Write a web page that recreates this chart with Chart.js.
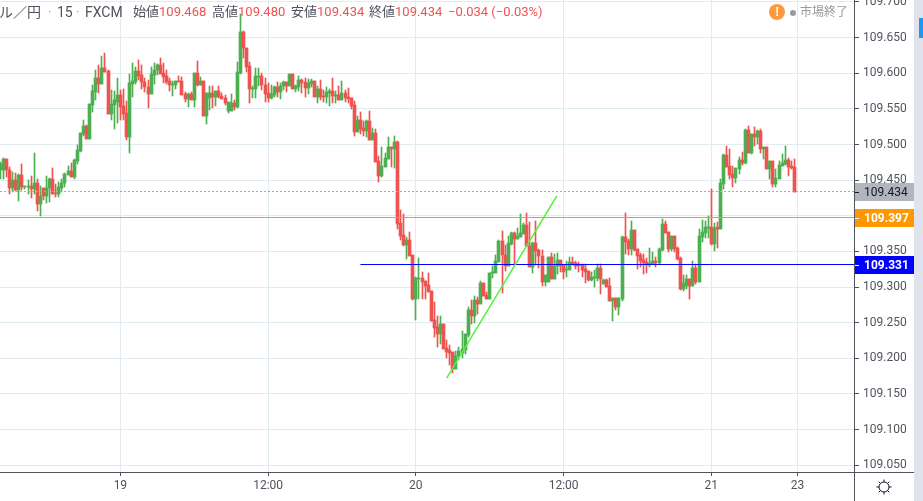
<!DOCTYPE html>
<html>
<head>
<meta charset="utf-8">
<script src="https://cdn.jsdelivr.net/npm/chart.js@4"></script>
<style>
body{margin:0;background:#fff;overflow:hidden;font-family:Roboto,'Noto Sans CJK JP',sans-serif}
#wrap{position:relative;width:923px;height:501px;overflow:hidden}
#chart{position:absolute;left:0;top:0}
.t{position:absolute;top:4px;font-size:13px;line-height:16px;white-space:nowrap;color:#50535e}
.r{color:#ef5350}
#side{position:absolute;left:914px;top:0;width:9px;height:501px;background:#e0e3eb}
#side div{position:absolute;left:5px;top:18px;width:4px;height:20px;background:#2196f3}
#mark{position:absolute;left:769px;top:4px;width:16px;height:16px;border-radius:8px;background:#ff9a3c;color:#fff;font-size:12px;font-weight:bold;line-height:16px;text-align:center}
#dot{position:absolute;left:790px;top:10px;width:6px;height:6px;border-radius:3px;background:#999}
</style>
</head>
<body>
<div id="wrap">
  <canvas id="chart" width="914" height="501"></canvas>
  <div class="t" style="left:-1px;font-size:14px">ル／円</div>
  <div class="t" style="left:48px;color:#999">·</div>
  <div class="t" style="left:57px;font-size:14px">15</div>
  <div class="t" style="left:76px;color:#999">·</div>
  <div class="t" style="left:85px;font-size:14px">FXCM</div>
  <div class="t" style="left:133px">始値<span class="r">109.468</span></div>
  <div class="t" style="left:212px">高値<span class="r">109.480</span></div>
  <div class="t" style="left:291px">安値<span class="r">109.434</span></div>
  <div class="t" style="left:369px">終値<span class="r">109.434</span></div>
  <div class="t r" style="left:448px">−0.034 (−0.03%)</div>
  <div id="mark">!</div>
  <div id="dot"></div>
  <div class="t" style="left:800px;color:#999;font-size:12px">市場終了</div>
  <div id="side"><div></div></div>
</div>
<script>
// 15分足 ドル／円
const opens=[109.464,109.464,109.480,109.464,109.439,109.450,109.436,109.457,109.440,109.440,
109.442,109.438,109.446,109.416,109.439,109.428,109.439,109.452,109.432,109.431,
109.439,109.446,109.457,109.463,109.454,109.477,109.491,109.515,109.526,109.508,
109.555,109.574,109.593,109.585,109.607,109.603,109.543,109.555,109.560,109.569,
109.554,109.544,109.511,109.585,109.588,109.603,109.598,109.588,109.581,109.571,
109.598,109.605,109.612,109.600,109.596,109.589,109.583,109.583,109.589,109.589,
109.571,109.564,109.571,109.562,109.600,109.583,109.589,109.540,109.565,109.572,
109.567,109.575,109.568,109.565,109.547,109.547,109.558,109.553,109.600,109.658,
109.635,109.610,109.578,109.578,109.595,109.596,109.584,109.572,109.565,109.570,
109.581,109.574,109.582,109.588,109.582,109.599,109.578,109.581,109.591,109.588,
109.579,109.585,109.589,109.567,109.578,109.568,109.567,109.572,109.575,109.568,
109.570,109.562,109.572,109.567,109.565,109.555,109.518,109.534,109.523,109.519,
109.533,109.506,109.516,109.477,109.456,109.468,109.480,109.497,109.494,109.504,
109.390,109.373,109.359,109.366,109.345,109.283,109.311,109.313,109.308,109.303,
109.294,109.254,109.244,109.234,109.248,109.214,109.212,109.209,109.185,109.203,
109.207,109.212,109.233,109.268,109.259,109.282,109.276,109.306,109.289,109.283,
109.320,109.320,109.335,109.365,109.345,109.329,109.360,109.376,109.367,109.370,
109.374,109.387,109.358,109.328,109.362,109.352,109.344,109.307,109.307,109.342,
109.311,109.329,109.338,109.331,109.324,109.324,109.335,109.334,109.332,109.331,
109.325,109.322,109.310,109.313,109.313,109.327,109.304,109.310,109.301,109.280,
109.285,109.272,109.283,109.370,109.365,109.353,109.380,109.353,109.345,109.338,
109.335,109.331,109.332,109.336,109.334,109.352,109.388,109.377,109.353,109.372,
109.355,109.341,109.297,109.301,109.311,109.301,109.327,109.307,109.370,109.376,
109.383,109.384,109.360,109.384,109.381,109.445,109.485,109.470,109.459,109.453,
109.466,109.478,109.474,109.520,109.488,109.515,109.511,109.519,109.494,109.497,
109.466,109.477,109.445,109.452,109.470,109.473,109.478,109.470,109.468]
const highs=[109.476,109.481,109.480,109.468,109.461,109.460,109.459,109.472,109.442,109.450,
109.456,109.488,109.452,109.442,109.439,109.456,109.453,109.467,109.445,109.447,
109.452,109.460,109.470,109.474,109.480,109.499,109.516,109.534,109.527,109.557,
109.584,109.605,109.612,109.624,109.628,109.605,109.577,109.575,109.593,109.577,
109.578,109.561,109.599,109.614,109.609,109.619,109.612,109.593,109.591,109.609,
109.614,109.613,109.621,109.614,109.605,109.593,109.589,109.589,109.596,109.595,
109.574,109.572,109.574,109.600,109.617,109.595,109.589,109.572,109.582,109.582,
109.575,109.582,109.572,109.569,109.560,109.571,109.562,109.616,109.683,109.659,
109.635,109.616,109.582,109.607,109.607,109.600,109.593,109.586,109.584,109.582,
109.588,109.586,109.589,109.588,109.599,109.599,109.584,109.596,109.592,109.593,
109.592,109.592,109.589,109.582,109.591,109.577,109.581,109.578,109.593,109.575,
109.582,109.589,109.577,109.579,109.565,109.561,109.540,109.546,109.533,109.534,
109.547,109.523,109.522,109.484,109.497,109.488,109.511,109.497,109.512,109.505,
109.408,109.402,109.370,109.377,109.345,109.314,109.341,109.321,109.308,109.320,
109.294,109.279,109.259,109.259,109.248,109.226,109.219,109.209,109.210,109.216,
109.238,109.234,109.272,109.282,109.287,109.286,109.308,109.306,109.293,109.320,
109.329,109.345,109.366,109.379,109.359,109.372,109.377,109.377,109.383,109.402,
109.390,109.404,109.391,109.363,109.393,109.353,109.352,109.317,109.342,109.348,
109.346,109.348,109.338,109.331,109.337,109.342,109.342,109.337,109.335,109.332,
109.332,109.322,109.321,109.324,109.332,109.332,109.311,109.311,109.313,109.285,
109.285,109.285,109.372,109.404,109.367,109.393,109.380,109.353,109.348,109.346,
109.341,109.355,109.349,109.342,109.355,109.395,109.393,109.377,109.372,109.372,
109.356,109.342,109.317,109.317,109.311,109.336,109.332,109.381,109.394,109.393,
109.400,109.438,109.390,109.391,109.452,109.487,109.498,109.494,109.470,109.467,
109.482,109.489,109.522,109.526,109.515,109.525,109.520,109.522,109.497,109.497,
109.477,109.477,109.466,109.477,109.487,109.498,109.481,109.477,109.480]
const lows=[109.452,109.452,109.455,109.431,109.433,109.435,109.421,109.436,109.438,109.431,
109.425,109.431,109.406,109.399,109.422,109.418,109.420,109.431,109.427,109.427,
109.434,109.441,109.457,109.454,109.452,109.473,109.490,109.512,109.508,109.508,
109.546,109.562,109.572,109.585,109.602,109.543,109.534,109.522,109.530,109.534,
109.534,109.506,109.488,109.567,109.585,109.591,109.578,109.574,109.551,109.571,
109.585,109.598,109.599,109.586,109.585,109.575,109.568,109.578,109.588,109.569,
109.560,109.553,109.562,109.553,109.582,109.583,109.540,109.529,109.548,109.551,
109.554,109.565,109.564,109.555,109.544,109.547,109.548,109.551,109.599,109.621,
109.602,109.558,109.565,109.565,109.582,109.577,109.560,109.560,109.564,109.567,
109.567,109.564,109.577,109.574,109.582,109.578,109.574,109.575,109.572,109.567,
109.571,109.581,109.567,109.558,109.562,109.560,109.558,109.554,109.558,109.558,
109.562,109.562,109.560,109.558,109.550,109.512,109.518,109.515,109.512,109.511,
109.506,109.506,109.475,109.447,109.454,109.468,109.480,109.468,109.467,109.381,
109.366,109.358,109.339,109.343,109.282,109.254,109.283,109.283,109.283,109.293,
109.252,109.230,109.216,109.220,109.213,109.200,109.190,109.179,109.185,109.197,
109.200,109.206,109.230,109.248,109.249,109.262,109.276,109.287,109.283,109.283,
109.313,109.320,109.335,109.292,109.322,109.329,109.359,109.331,109.367,109.370,
109.374,109.357,109.328,109.320,109.331,109.327,109.301,109.301,109.307,109.311,
109.311,109.318,109.321,109.311,109.314,109.324,109.331,109.325,109.321,109.314,
109.306,109.308,109.308,109.300,109.308,109.290,109.304,109.300,109.280,109.252,
109.268,109.261,109.280,109.346,109.345,109.345,109.351,109.325,109.328,109.318,
109.320,109.328,109.332,109.328,109.332,109.351,109.376,109.349,109.351,109.349,
109.338,109.296,109.294,109.297,109.283,109.301,109.304,109.307,109.363,109.369,
109.369,109.359,109.350,109.355,109.381,109.438,109.468,109.452,109.440,109.446,
109.459,109.471,109.473,109.488,109.487,109.498,109.501,109.488,109.480,109.466,
109.452,109.440,109.440,109.452,109.470,109.471,109.456,109.466,109.434]
const closes=[109.473,109.480,109.464,109.439,109.450,109.436,109.457,109.440,109.442,109.442,
109.438,109.446,109.416,109.428,109.428,109.439,109.452,109.431,109.431,109.440,
109.446,109.459,109.463,109.454,109.478,109.492,109.516,109.526,109.508,109.557,
109.575,109.593,109.585,109.607,109.602,109.543,109.557,109.562,109.569,109.553,
109.543,109.511,109.586,109.589,109.603,109.596,109.588,109.581,109.571,109.599,
109.605,109.612,109.599,109.595,109.588,109.583,109.585,109.589,109.588,109.569,
109.564,109.571,109.562,109.600,109.583,109.589,109.540,109.572,109.572,109.567,
109.575,109.567,109.564,109.558,109.560,109.558,109.553,109.602,109.658,109.635,
109.609,109.578,109.579,109.596,109.596,109.583,109.571,109.565,109.571,109.581,
109.574,109.582,109.588,109.582,109.599,109.578,109.582,109.591,109.586,109.579,
109.586,109.589,109.567,109.578,109.567,109.567,109.574,109.575,109.568,109.570,
109.562,109.572,109.565,109.564,109.554,109.518,109.534,109.522,109.519,109.533,
109.506,109.516,109.475,109.456,109.470,109.481,109.497,109.494,109.504,109.389,
109.372,109.359,109.366,109.343,109.283,109.313,109.313,109.307,109.301,109.293,
109.252,109.242,109.234,109.248,109.213,109.209,109.207,109.185,109.203,109.210,
109.213,109.234,109.268,109.259,109.282,109.276,109.306,109.287,109.283,109.320,
109.321,109.336,109.365,109.345,109.329,109.362,109.376,109.367,109.372,109.376,
109.387,109.358,109.328,109.362,109.351,109.344,109.307,109.317,109.342,109.311,
109.329,109.338,109.329,109.321,109.325,109.335,109.332,109.329,109.329,109.324,
109.321,109.310,109.314,109.314,109.327,109.311,109.310,109.300,109.280,109.285,
109.272,109.285,109.370,109.363,109.353,109.380,109.352,109.344,109.336,109.334,
109.332,109.334,109.336,109.334,109.353,109.388,109.376,109.353,109.372,109.353,
109.339,109.297,109.306,109.311,109.301,109.327,109.307,109.372,109.377,109.384,
109.384,109.360,109.383,109.381,109.446,109.485,109.468,109.457,109.453,109.467,
109.478,109.474,109.520,109.488,109.515,109.511,109.519,109.494,109.497,109.466,
109.477,109.445,109.453,109.471,109.474,109.478,109.468,109.467,109.434]

// 軸
const tickBars = [39, 87, 135, 183, 231, 259]
const tickLabels = ['19', '12:00', '20', '12:00', '21', '23']
const priceTicks = [109.05,109.1,109.15,109.2,109.25,109.3,109.35,109.4,109.45,109.5,109.55,109.6,109.65,109.7]

// ライン
const lastPrice = 109.434
const orangePrice = 109.397
const bluePrice = 109.331
const blueStartBar = 117
const trendBars = [145, 180.8]
const trendPrices = [109.172, 109.428]

const UP = '#4caf50', DOWN = '#ef5350'
const xMin = -0.107, xMax = 277.35

var ctx = document.getElementById('chart')

var wicks = opens.map((o, i) => ({x: i, y: [lows[i], highs[i]]}))
var bodies = opens.map((o, i) => ({x: i, y: [o, closes[i]]}))
function barColor(c){
  var i = c.dataIndex
  return closes[i] < opens[i] ? DOWN : UP
}

// ローソク足と水平線をピクセルに揃える
var snap = {
  id: 'snap',
  beforeDatasetDraw(chart, args){
    var meta = args.meta
    if (meta.type === 'bar'){
      meta.data.forEach(el => {
        el.x = Math.floor(el.x) + 0.5
        el.y = Math.round(el.y)
        el.base = Math.round(el.base)
        if (el.base === el.y) el.base = el.y + 1
      })
    } else if (meta.data[0].y === meta.data[1].y){
      meta.data.forEach(p => { p.y = Math.floor(p.y) + 0.5 })
    }
  }
}

// 価格ラベルとその他
var overlay = {
  id: 'overlay',
  afterDraw(chart){
    var c = chart.ctx, yS = chart.scales.y
    c.save()
    c.strokeStyle = '#50535e'
    c.lineWidth = 1
    c.beginPath()
    c.moveTo(854.5, 0); c.lineTo(854.5, 501)
    c.moveTo(0, 472.5); c.lineTo(914, 472.5)
    c.stroke()
    var tags = [[lastPrice, '#b2b5be', '#131722', 'normal'], [orangePrice, '#ff9800', '#fff', 'bold'], [bluePrice, '#0000ff', '#fff', 'bold']]
    tags.forEach(t => {
      var y = Math.round(yS.getPixelForValue(t[0]))
      c.fillStyle = t[1]
      c.fillRect(855, y - 9, 59, 18)
      c.strokeStyle = t[2]
      c.beginPath(); c.moveTo(855, y + 0.5); c.lineTo(859, y + 0.5); c.stroke()
      c.fillStyle = t[2]
      c.font = t[3] + ' 12px Roboto'
      c.textBaseline = 'middle'
      c.textAlign = 'left'
      c.fillText(t[0].toFixed(3), 864, y + 1)
    })
    // 設定アイコン
    c.strokeStyle = '#131722'
    c.beginPath(); c.arc(884, 487, 5, 0, Math.PI * 2); c.stroke()
    for (var i = 0; i < 8; i++){
      var r = i * Math.PI / 4
      c.beginPath()
      c.moveTo(884 + Math.cos(r) * 5, 487 + Math.sin(r) * 5)
      c.lineTo(884 + Math.cos(r) * 7.5, 487 + Math.sin(r) * 7.5)
      c.stroke()
    }
    c.restore()
  }
}

var chart = new Chart(ctx, {
  type: 'bar',
  plugins: [snap, overlay],
  data: {
    datasets: [
      {type: 'line', data: trendBars.map((b, i) => ({x: b, y: trendPrices[i]})), borderColor: '#55f03c', borderWidth: 1.5, pointRadius: 0, order: 0},
      {type: 'line', data: [{x: xMin, y: orangePrice}, {x: xMax, y: orangePrice}], borderColor: '#ff9800', borderWidth: 1, pointRadius: 0, order: 1},
      {type: 'line', data: [{x: blueStartBar, y: bluePrice}, {x: xMax, y: bluePrice}], borderColor: '#0000ff', borderWidth: 1, pointRadius: 0, order: 1},
      {type: 'line', data: [{x: xMin, y: lastPrice}, {x: xMax, y: lastPrice}], borderColor: '#aaaaaa', borderWidth: 1, borderDash: [2, 2], pointRadius: 0, order: 2},
      {data: bodies, backgroundColor: barColor, barThickness: 3, borderWidth: 0, grouped: false, order: 3},
      {data: wicks, backgroundColor: barColor, barThickness: 1, borderWidth: 0, grouped: false, order: 4}
    ]
  },
  options: {
    responsive: false,
    animation: false,
    layout: {padding: 0},
    plugins: {legend: {display: false}, tooltip: {enabled: false}},
    scales: {
      x: {
        type: 'linear',
        min: xMin,
        max: xMax,
        offset: false,
        grid: {offset: false, color: '#e1ecf2', tickLength: 4, tickColor: '#50535e'},
        border: {display: false},
        afterFit(s){ s.height = 29; s.paddingLeft = 0; s.paddingRight = 0 },
        afterBuildTicks(s){ s.ticks = tickBars.map(v => ({value: v})) },
        ticks: {
          autoSkip: false,
          maxRotation: 0,
          padding: 3,
          color: '#50535e',
          font: {family: 'Roboto', size: 12},
          callback: v => tickLabels[tickBars.indexOf(v)]
        }
      },
      y: {
        position: 'right',
        min: 109.0404,
        max: 109.7028,
        grid: {color: '#e1ecf2', tickLength: 5, tickColor: '#50535e'},
        border: {display: false},
        afterFit(s){ s.width = 60; s.paddingTop = 0; s.paddingBottom = 0 },
        afterBuildTicks(s){ s.ticks = priceTicks.map(v => ({value: v})) },
        ticks: {
          autoSkip: false,
          padding: 4,
          color: '#50535e',
          font: {family: 'Roboto', size: 12},
          callback: v => v.toFixed(3)
        }
      }
    }
  }
})
</script>
</body>
</html>
